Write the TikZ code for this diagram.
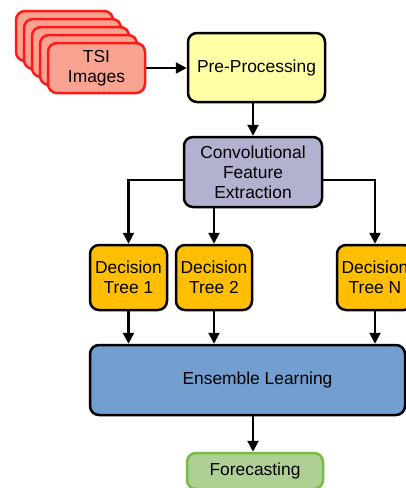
\documentclass[tikz,border=0pt]{standalone}
\usepackage{fontspec}
\setmainfont{Liberation Sans}
\usepackage{tikz}
\usetikzlibrary{arrows.meta,calc,positioning}

\definecolor{tsifill}{HTML}{F9A392}
\definecolor{tsiedge}{HTML}{FF1A1A}
\definecolor{prepfill}{HTML}{FFFFA6}
\definecolor{convfill}{HTML}{B3B1D0}
\definecolor{treefill}{HTML}{FFBF00}
\definecolor{ensfill}{HTML}{729FCF}
\definecolor{forefill}{HTML}{AFD095}
\definecolor{foreedge}{HTML}{77BC43}

\tikzset{
  blk/.style={draw=black, line width=2.5pt, rounded corners=9pt, align=center,
    inner sep=0pt, font=\fontsize{17.4}{20}\selectfont},
  img/.style={blk, draw=tsiedge, fill=tsifill, minimum width=97pt, minimum height=50pt},
  arr/.style={-{Triangle[length=11pt,width=11pt]}, line width=2.3pt},
}

\begin{document}
\begin{tikzpicture}[x=1pt,y=-1pt]
\useasboundingbox (0,0) rectangle (406,488);
\clip (0,0) rectangle (406,488);

% stack of images
\foreach \k in {4,3,2,1}{
  \node[img] (img\k) at ({96.5-8*\k},{68-8*\k}) {};
}
\node[img] (tsi) at (96.5,68) {TSI\\Images};

\node[blk, fill=prepfill, minimum width=137pt, minimum height=69pt] (prep) at (256.5,67.5) {Pre-Processing};
\node[blk, fill=convfill, minimum width=138pt, minimum height=70pt] (conv) at (253,172) {Convolutional\\Feature\\Extraction};

\node[blk, fill=treefill, minimum width=77pt, minimum height=65pt] (tree1) at (128.5,277.5) {Decision\\Tree 1};
\node[blk, fill=treefill, minimum width=76pt, minimum height=65pt] (tree2) at (214,277.5) {Decision\\Tree 2};
\node[blk, fill=treefill, minimum width=76pt, minimum height=65pt] (treeN) at (375,277.5) {Decision\\Tree N};

\node[blk, fill=ensfill, minimum width=315pt, minimum height=70pt] (ens) at (247.5,380) {\hspace*{20pt}Ensemble Learning};
\node[blk, draw=foreedge, fill=forefill, minimum width=136pt, minimum height=36pt] (fore) at (255,471) {Forecasting};

\draw[arr] (tsi.east) -- (tsi.east -| prep.west);
\draw[arr] (conv.north |- prep.south) -- (conv.north);
\draw[arr] ([yshift=-8pt]conv.west) -| (tree1.north);
\draw[arr] (tree2.north |- conv.south) -- (tree2.north);
\draw[arr] ([yshift=-8pt]conv.east) -| (treeN.north);

\draw[arr] (tree1.south) -- (tree1.south |- ens.north);
\draw[arr] (tree2.south) -- (tree2.south |- ens.north);
\draw[arr] (treeN.south) -- (treeN.south |- ens.north);
\draw[arr] (conv.south |- ens.south) -- (conv.south |- fore.north);
\end{tikzpicture}
\end{document}
